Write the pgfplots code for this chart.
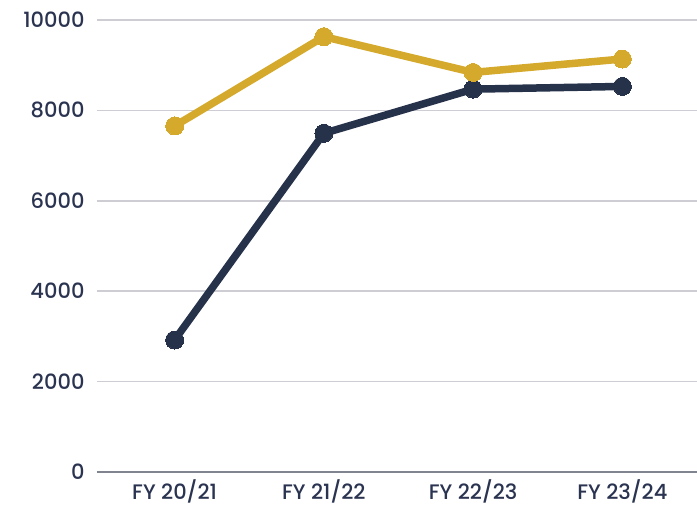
\documentclass[border=0pt]{standalone}
\usepackage{fontspec}
\setmainfont{Poppins}[UprightFont=* Medium]
\usepackage{pgfplots}
\pgfplotsset{compat=1.18}
\definecolor{navy}{HTML}{26314A}
\definecolor{gold}{HTML}{D4A92C}
\definecolor{gridc}{HTML}{CDCDD3}
\definecolor{axc}{HTML}{80848F}
\definecolor{txt}{HTML}{2A3350}
\begin{document}
\begin{tikzpicture}
\begin{axis}[
  scale only axis,
  width=600pt, height=452pt,
  xmin=-0.52, xmax=3.5,
  ymin=0, ymax=10000,
  xtick={0,1,2,3},
  xticklabels={FY 20/21,FY 21/22,FY 22/23,FY 23/24},
  ytick={0,2000,4000,6000,8000,10000},
  /pgf/number format/assume math mode=true,
  yticklabel style={/pgf/number format/fixed,/pgf/number format/1000 sep={}},
  scaled y ticks=false,
  tick label style={font=\fontsize{21}{24}\selectfont, text=txt},
  yticklabel style={xshift=-9pt},
  xticklabel style={yshift=-4pt},
  major tick length=0pt,
  axis line style={draw=none},
  ymajorgrids,
  grid style={draw=gridc, line width=1.5pt},
  clip=false,
]
\addplot[navy, line width=7.5pt, mark=*, mark size=9pt, mark options={solid, fill=navy, draw=navy, line width=0pt}]
  coordinates {(0,2920) (1,7493) (2,8470) (3,8530)};
\addplot[gold, line width=7.5pt, mark=*, mark size=9pt, mark options={solid, fill=gold, draw=gold, line width=0pt}]
  coordinates {(0,7655) (1,9631) (2,8840) (3,9137)};
\draw[axc, line width=2pt] (axis cs:-0.52,0) -- (axis cs:3.5,0);
\end{axis}
\pgfresetboundingbox
\path[use as bounding box] (-97pt,-36pt) rectangle (600pt,472pt);
\end{tikzpicture}
\end{document}
